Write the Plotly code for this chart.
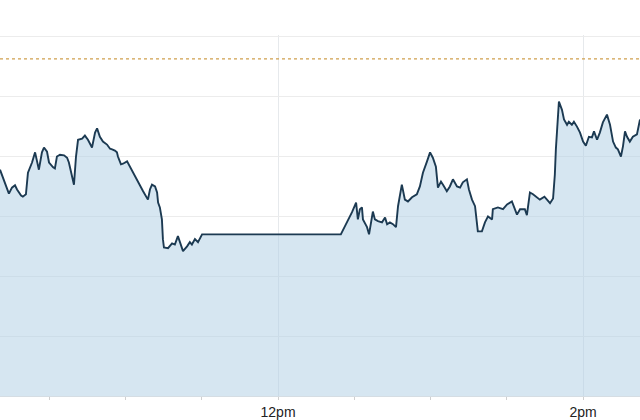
import datetime as dt
import plotly.graph_objects as go

# Intraday series: time in minutes after midnight, price level (arbitrary units)
minutes = [
    610.6, 611.8, 613.4, 614.1, 615.3, 616.5, 617.3, 618.9, 619.6, 620.8,
    621.6, 623.2, 624.4, 625.2, 625.9, 627.1, 627.9, 629.1, 629.9, 631.5,
    632.2, 633.0, 634.2, 635.8, 637.0, 637.7, 638.9, 639.7, 640.5, 641.3,
    642.9, 644.0, 645.2, 646.8, 648.0, 648.8, 649.9, 651.1, 652.7, 653.9,
    654.7, 655.8, 656.6, 657.0, 658.2, 659.0, 660.6, 661.7, 662.9, 664.9,
    666.9, 668.8, 669.6, 670.4, 671.6, 672.4, 672.8, 673.5, 674.3, 674.7,
    675.1, 676.7, 678.3, 679.4, 680.6, 681.8, 682.6, 684.2, 685.3, 686.1,
    687.3, 688.5, 690.1, 744.7, 747.1, 749.1, 750.7, 751.4, 752.2, 753.0,
    753.4, 755.0, 755.8, 757.3, 758.1, 759.3, 760.9, 762.1, 762.9, 764.0,
    765.2, 766.4, 767.2, 768.7, 769.9, 771.1, 772.7, 774.6, 775.8, 777.0,
    778.6, 779.8, 780.9, 782.1, 782.9, 784.1, 784.9, 786.4, 787.6, 788.8,
    790.4, 791.6, 792.7, 794.3, 795.1, 796.3, 797.5, 798.6, 800.2, 801.4,
    802.6, 804.2, 804.5, 806.5, 808.5, 810.1, 812.0, 813.2, 814.0, 815.2,
    817.1, 817.9, 819.1, 820.3, 821.9, 823.0, 824.8, 827.0, 828.2, 828.9,
    829.3, 829.7, 830.1, 830.5, 831.7, 832.5, 833.7, 834.4, 835.6, 836.4,
    837.6, 838.8, 840.0, 841.1, 842.3, 843.5, 844.3, 845.5, 846.6, 847.8,
    849.4, 850.6, 851.8, 852.9, 853.7, 854.9, 855.7, 856.5, 857.3, 858.4,
    859.6, 861.2, 862.4,
]
prices = [
    37.8, 36.5, 34.5, 33.8, 34.8, 35.2, 34.5, 33.5, 33.3, 33.7,
    37.3, 39.0, 40.7, 39.2, 37.8, 40.7, 41.5, 40.8, 39.0, 38.2,
    38.0, 40.0, 40.3, 40.2, 39.8, 39.0, 37.0, 35.3, 40.0, 42.8,
    43.0, 43.5, 42.8, 41.5, 44.0, 44.7, 43.3, 42.5, 42.0, 41.3,
    41.2, 41.0, 40.7, 40.0, 38.7, 38.8, 39.2, 38.3, 37.3, 35.7,
    34.2, 32.8, 34.5, 35.3, 35.0, 34.0, 32.3, 31.5, 29.5, 26.2,
    24.8, 24.7, 25.5, 25.3, 26.7, 25.2, 24.2, 25.0, 25.7, 25.3,
    26.2, 25.7, 27.0, 27.0, 29.0, 30.7, 32.3, 29.5, 31.2, 31.5,
    29.5, 28.2, 27.0, 30.8, 29.5, 29.2, 29.0, 29.8, 28.7, 29.0,
    28.7, 28.2, 31.7, 35.3, 32.8, 32.5, 33.2, 33.7, 35.0, 37.3,
    39.2, 40.7, 39.8, 38.3, 34.8, 35.8, 35.3, 34.2, 35.0, 36.2,
    35.0, 34.8, 35.7, 36.2, 34.5, 32.8, 31.7, 27.5, 27.5, 29.0,
    30.0, 29.5, 31.2, 31.5, 31.2, 32.0, 32.5, 31.2, 30.3, 31.2,
    31.2, 30.2, 34.0, 33.7, 33.2, 32.8, 33.3, 32.2, 33.0, 37.0,
    41.2, 43.7, 46.7, 49.2, 47.8, 46.2, 45.3, 45.8, 45.3, 45.8,
    45.0, 44.0, 42.5, 41.8, 43.3, 43.2, 44.2, 42.8, 44.0, 45.7,
    47.0, 45.3, 42.5, 41.5, 41.2, 40.0, 41.7, 44.2, 43.3, 42.5,
    43.3, 43.7, 46.2,
]
prev_close = 56.3
tick_minutes = [720, 840]
tick_labels = ["12pm", "2pm"]
x_start_min, x_end_min = 610.6, 862.4
y_top = 60.3

base = dt.datetime(2015, 1, 1)
def to_time(m):
    return base + dt.timedelta(minutes=m)

times = [to_time(m) for m in minutes]

fig = go.Figure()
fig.add_trace(go.Scatter(
    x=times, y=prices, mode="lines",
    line=dict(color="#1c3a52", width=1.9),
    fill="tozeroy", fillcolor="rgba(173,205,227,0.5)",
    hoverinfo="skip",
))
fig.add_hline(y=prev_close, line=dict(color="#cfa04e", width=1.2, dash="dot"))

fig.update_layout(
    width=640, height=420,
    margin=dict(l=0, r=0, t=35, b=24, pad=0),
    paper_bgcolor="white", plot_bgcolor="white",
    showlegend=False,
    font=dict(family="Liberation Sans, Arial, sans-serif", size=14, color="#222"),
)
fig.update_xaxes(
    type="date",
    range=[to_time(x_start_min), to_time(x_end_min)],
    tickvals=[to_time(m) for m in tick_minutes], ticktext=tick_labels,
    showgrid=True, gridcolor="#e6e9ec", gridwidth=1,
    ticks="outside", ticklen=3, tickcolor="#d0d0d0",
    showline=True, linecolor="#d5dde3", linewidth=1,
    minor=dict(ticks="outside", ticklen=3, tickcolor="#d0d0d0",
               dtick=30 * 60 * 1000, tick0=to_time(600), showgrid=False),
    zeroline=False,
)
fig.update_yaxes(
    range=[0, y_top], dtick=10, showticklabels=False,
    showgrid=True, gridcolor="#ececec", gridwidth=1, zeroline=False,
)

fig.write_html("out.html", config={"displayModeBar": False},
               post_script="document.body.style.margin='0';")
